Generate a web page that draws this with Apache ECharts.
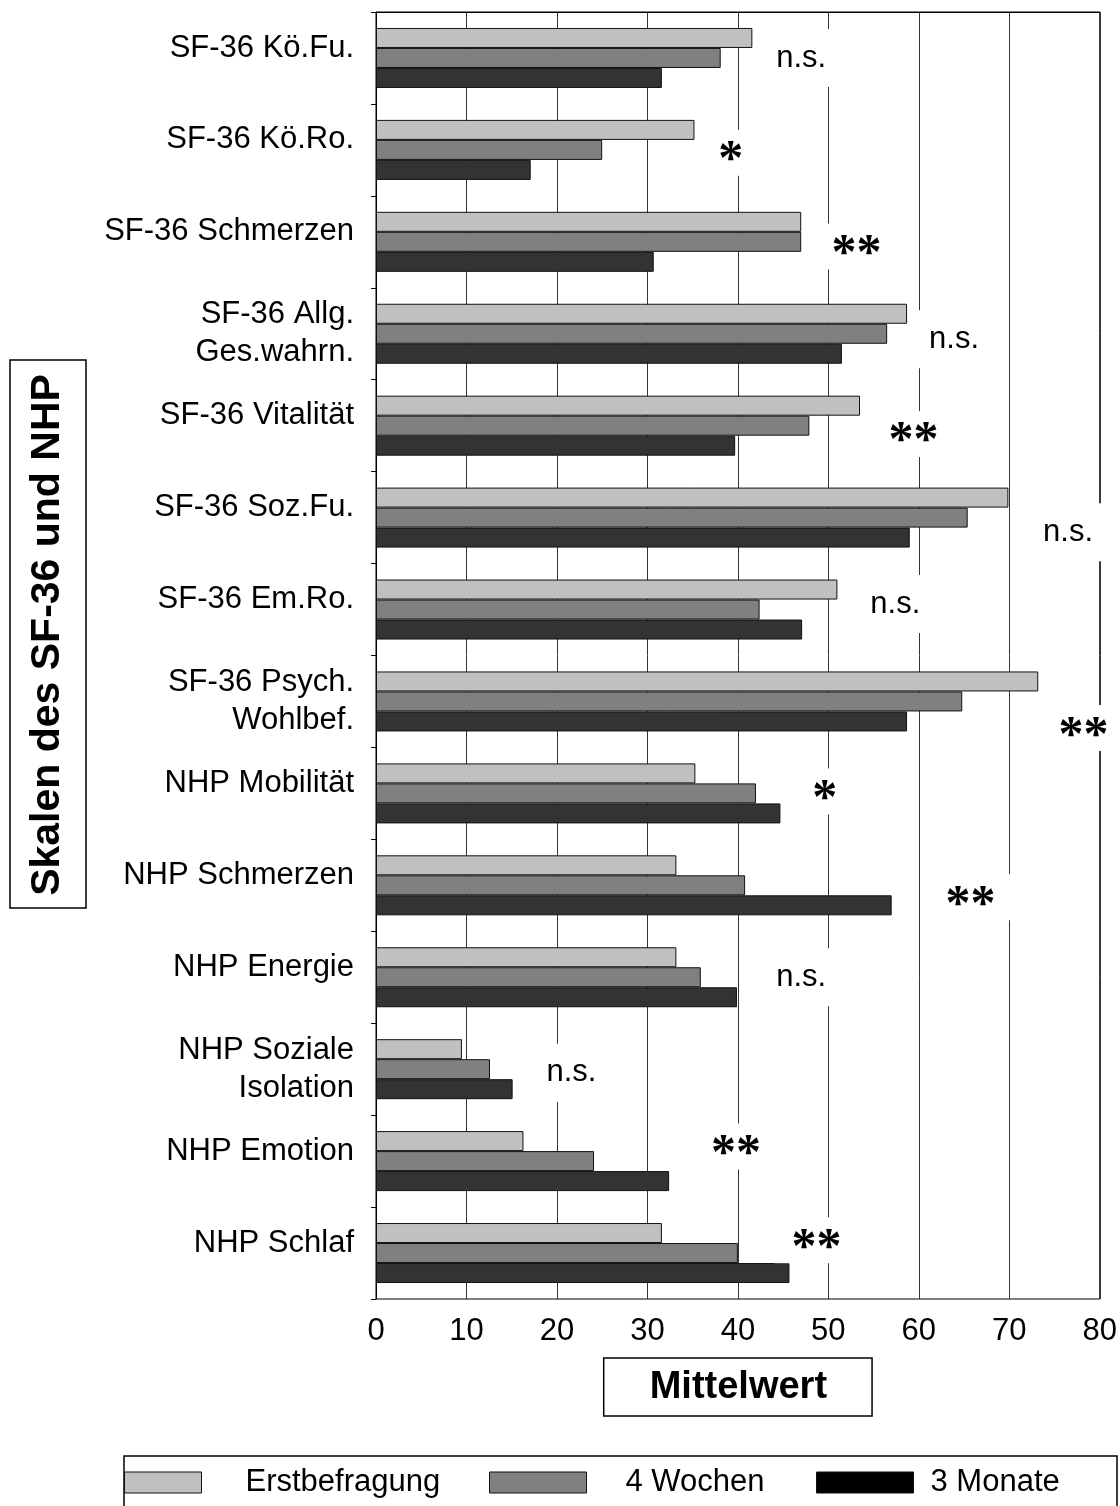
<!DOCTYPE html>
<html><head><meta charset="utf-8">
<script src="https://cdn.jsdelivr.net/npm/echarts@6/dist/echarts.min.js"></script>
<style>html,body{margin:0;padding:0;background:#fff}#c{width:1120px;height:1506px}</style>
</head><body><div id="c"></div>
<script>
// ---- data ----
const categories = ['SF-36 Kö.Fu.', 'SF-36 Kö.Ro.', 'SF-36 Schmerzen', 'SF-36 Allg.\nGes.wahrn.', 'SF-36 Vitalität', 'SF-36 Soz.Fu.', 'SF-36 Em.Ro.', 'SF-36 Psych.\nWohlbef.', 'NHP Mobilität', 'NHP Schmerzen', 'NHP Energie', 'NHP Soziale\nIsolation', 'NHP Emotion', 'NHP Schlaf'];
const seriesNames = ['Erstbefragung', '4 Wochen', '3 Monate'];
const erstbefragung = [41.6, 35.2, 47.0, 58.7, 53.5, 69.9, 51.0, 73.2, 35.3, 33.2, 33.2, 9.5, 16.3, 31.6];
const wochen4 = [38.1, 25.0, 47.0, 56.5, 47.9, 65.4, 42.4, 64.8, 42.0, 40.8, 35.9, 12.6, 24.1, 40.0];
const monate3 = [31.6, 17.1, 30.7, 51.5, 39.7, 59.0, 47.1, 58.7, 44.7, 57.0, 39.9, 15.1, 32.4, 45.7];
// significance marks: text, x (Mittelwert), position along the category axis (category units)
const sigLabels = ['n.s.', '*', '**', 'n.s.', '**', 'n.s.', 'n.s.', '**', '*', '**', 'n.s.', 'n.s.', '**', '**'];
const sigX = [47.0, 39.2, 53.1, 63.9, 59.4, 76.5, 57.4, 78.2, 49.6, 65.7, 47.0, 21.6, 39.8, 48.7];
const sigPos = [0.50, 1.53, 2.55, 3.56, 4.59, 5.66, 6.44, 7.79, 8.48, 9.63, 10.50, 11.54, 12.34, 13.36];
const xMin = 0, xMax = 80, xStep = 10;
const xAxisTitle = 'Mittelwert';
const yAxisTitle = 'Skalen des SF-36 und NHP';

// ---- chart ----
const FONT = '"Liberation Sans", Arial, sans-serif';
const colors = ['#c0c0c0', '#808080', '#333333'];
const legendColors = ['#c0c0c0', '#808080', '#000000'];
const chart = echarts.init(document.getElementById('c'), null, {renderer: 'canvas'});

const barSeries = [erstbefragung, wochen4, monate3].map((vals, i) => ({
  name: seriesNames[i],
  type: 'bar',
  xAxisIndex: 0, yAxisIndex: 0,
  data: vals,
  barWidth: 20,
  barGap: '0%',
  itemStyle: {color: colors[i], borderColor: '#111', borderWidth: 1},
  emphasis: {disabled: true},
  z: 2
}));

function sigPoints(isStar) {
  const out = [];
  sigLabels.forEach((t, i) => {
    if ((t.indexOf('*') >= 0) === isStar) out.push({name: t, value: [sigX[i], sigPos[i]]});
  });
  return out;
}
function sigSeries(isStar) {
  return {
    type: 'scatter',
    xAxisIndex: 0, yAxisIndex: 1,
    symbol: 'rect',
    symbolSize: 1,
    itemStyle: {color: 'rgba(255,255,255,0)', opacity: 1},
    silent: true,
    z: 5,
    data: sigPoints(isStar),
    label: {
      show: true,
      position: 'inside',
      opacity: 1,
      formatter: p => (isStar ? '{s|' : '{t|') + p.name + '}',
      color: '#000',
      backgroundColor: '#fff',
      padding: isStar ? [8, 17, 4, 17] : [12, 14, 12, 14],
      rich: {
        t: {fontFamily: FONT, fontSize: 31, color: '#000', lineHeight: 34},
        s: {fontFamily: '"Liberation Serif", serif', fontWeight: 'bold', fontSize: 50, color: '#000',
          lineHeight: 34, padding: [13, 0, 0, 0]}
      }
    }
  };
}

const legends = [
  {left: 124, itemWidth: 77, pad: 39},
  {left: 489, itemWidth: 97, pad: 34},
  {left: 816, itemWidth: 97, pad: 12}
].map((l, i) => ({
  data: [{name: seriesNames[i], itemStyle: {color: legendColors[i], borderColor: '#111', borderWidth: 1}}],
  left: l.left, top: 1467,
  itemWidth: l.itemWidth, itemHeight: 21,
  padding: 0,
  selectedMode: false,
  icon: 'rect',
  textStyle: {fontFamily: FONT, fontSize: 31, color: '#000', padding: [0, 0, 0, l.pad]}
}));

chart.setOption({
  animation: false,
  backgroundColor: '#fff',
  grid: {left: 376, right: 17, top: 12, bottom: 207, show: true, borderColor: '#000', borderWidth: 1, containLabel: false},
  legend: legends,
  xAxis: {
    type: 'value', min: xMin, max: xMax, interval: xStep,
    axisLine: {show: true, lineStyle: {color: '#000', width: 1}},
    axisTick: {show: false},
    splitLine: {show: true, lineStyle: {color: '#333', width: 1}},
    axisLabel: {fontFamily: FONT, fontSize: 31, color: '#000', margin: 17},
    name: xAxisTitle,
    nameLocation: 'middle',
    nameGap: 59,
    nameTextStyle: {fontFamily: FONT, fontSize: 38, fontWeight: 'bold', color: '#000',
      borderColor: '#000', borderWidth: 1.5, padding: [9, 45, 8, 46], lineHeight: 41, verticalAlign: 'top'}
  },
  yAxis: [{
    type: 'category', data: categories, inverse: true,
    axisLine: {show: true, lineStyle: {color: '#000', width: 1}},
    axisTick: {show: true, length: 5, lineStyle: {color: '#000'}},
    splitLine: {show: false},
    axisLabel: {
      margin: 22, color: '#000',
      formatter: v => v.indexOf('\n') >= 0 ? '{m|' + v + '}' : '{o|' + v + '}',
      rich: {
        m: {fontFamily: FONT, fontSize: 31, color: '#000', lineHeight: 38, align: 'right'},
        o: {fontFamily: FONT, fontSize: 31, color: '#000', lineHeight: 34, align: 'right', padding: [0, 0, 20, 0]}
      }
    }
  }, {
    type: 'value', min: 0, max: categories.length, inverse: true, show: false
  }],
  graphic: [
    {type: 'rect', shape: {x: 10, y: 360, width: 76, height: 548}, style: {fill: 'none', stroke: '#000', lineWidth: 1.5}},
    {type: 'text', x: 48, y: 635, rotation: Math.PI / 2,
      style: {text: yAxisTitle, font: 'bold 41px ' + FONT, fill: '#000', align: 'center', verticalAlign: 'middle'}},
    {type: 'rect', shape: {x: 124, y: 1456, width: 993, height: 120}, style: {fill: 'none', stroke: '#000', lineWidth: 1.5}}
  ],
  series: [...barSeries, sigSeries(false), sigSeries(true)]
});
</script></body></html>
